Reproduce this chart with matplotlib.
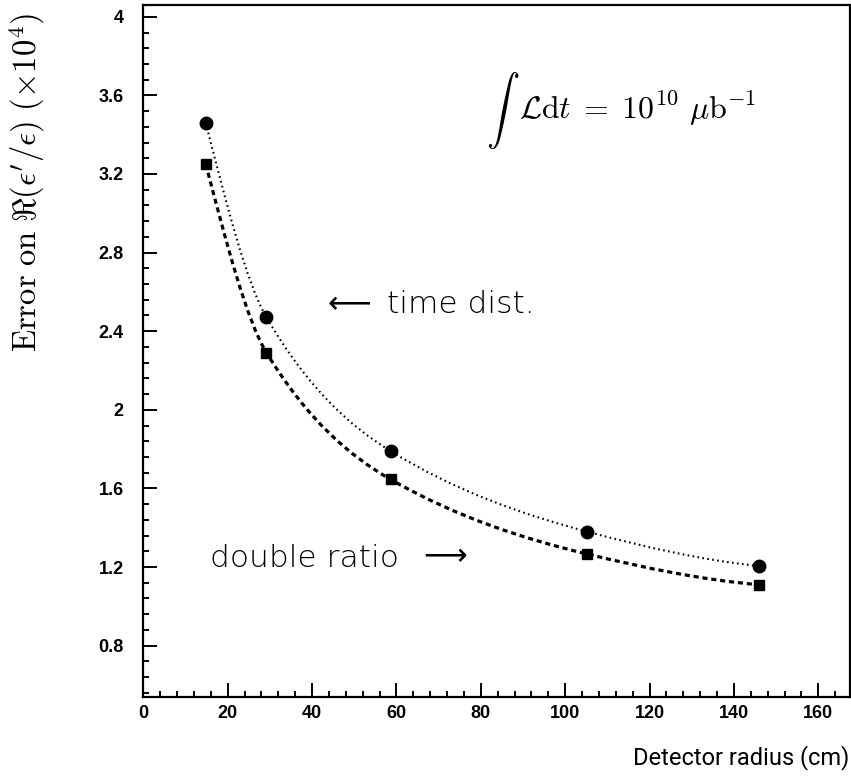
import numpy as np
import matplotlib
matplotlib.use('Agg')
import matplotlib.pyplot as plt
from matplotlib.path import Path
from matplotlib.patches import PathPatch
from matplotlib.ticker import MultipleLocator

# values
radius = [14.8, 29.2, 58.6, 105.2, 145.9]          # cm
err_time = [3.46, 2.47, 1.79, 1.38, 1.205]          # "time dist."
err_ratio = [3.25, 2.29, 1.646, 1.266, 1.11]        # "double ratio"

xticks = [0, 20, 40, 60, 80, 100, 120, 140, 160]
yticks = [0.8, 1.2, 1.6, 2.0, 2.4, 2.8, 3.2, 3.6, 4.0]
ylabels = ['0.8', '1.2', '1.6', '2', '2.4', '2.8', '3.2', '3.6', '4']

W, H = 851, 777


def px(x):
    return x / W


def py(y):
    return 1 - y / H


def smooth_path(x, y):
    # monotone cubic (pchip) through the points, drawn as bezier segments
    x = np.asarray(x, float)
    y = np.asarray(y, float)
    h = np.diff(x)
    d = np.diff(y) / h
    m = np.zeros_like(y)
    for k in range(1, len(x) - 1):
        if d[k - 1] * d[k] > 0:
            w1 = 2 * h[k] + h[k - 1]
            w2 = h[k] + 2 * h[k - 1]
            m[k] = (w1 + w2) / (w1 / d[k - 1] + w2 / d[k])
    m[0] = ((2 * h[0] + h[1]) * d[0] - h[0] * d[1]) / (h[0] + h[1])
    m[-1] = ((2 * h[-1] + h[-2]) * d[-1] - h[-1] * d[-2]) / (h[-1] + h[-2])
    verts = [(x[0], y[0])]
    codes = [Path.MOVETO]
    for k in range(len(x) - 1):
        verts += [(x[k] + h[k] / 3, y[k] + m[k] * h[k] / 3),
                  (x[k + 1] - h[k] / 3, y[k + 1] - m[k + 1] * h[k] / 3),
                  (x[k + 1], y[k + 1])]
        codes += [Path.CURVE4] * 3
    return Path(verts, codes)


fig = plt.figure(figsize=(W / 100, H / 100), dpi=100)
ax = fig.add_axes([px(143.3), py(696.7), (850 - 143.3) / W, (696.7 - 5) / H])
ax.set_xlim(0, 167.5)
ax.set_ylim(0.54, 4.06)

ax.add_patch(PathPatch(smooth_path(radius, err_time), fill=False, color='black',
                       lw=1.5, linestyle=(0, (0.8, 1.6))))
ax.add_patch(PathPatch(smooth_path(radius, err_ratio), fill=False, color='black',
                       lw=2.3, linestyle=(0, (1.6, 1.2))))
ax.plot(radius, err_time, 'o', color='black', ms=9, ls='none')
ax.plot(radius, err_ratio, 's', color='black', ms=7.4, ls='none')

ax.set_xticks(xticks)
ax.set_yticks(yticks)
ax.set_yticklabels(ylabels)
ax.xaxis.set_minor_locator(MultipleLocator(4))
ax.yaxis.set_minor_locator(MultipleLocator(0.08))
ax.tick_params(which='both', direction='in', top=False, right=False, width=1.4)
ax.tick_params(which='major', length=10)
ax.tick_params(which='minor', length=4.3)
ax.tick_params(axis='y', pad=14)
ax.tick_params(axis='x', pad=6)
for lab in ax.get_xticklabels() + ax.get_yticklabels():
    lab.set_fontfamily('Liberation Sans')
    lab.set_fontweight('bold')
    lab.set_fontsize(13)
for sp in ax.spines.values():
    sp.set_linewidth(1.6)

fig.text(px(27), py(182), r"$\mathrm{Error\ on}\ \Re(\epsilon'/\epsilon)\ (\times 10^{4})$",
         rotation=90, ha='center', va='center', fontsize=23.5, math_fontfamily='cm')

fig.text(px(486), py(111), r'$\int$', fontsize=24, math_fontfamily='cm',
         ha='left', va='center')
fig.text(px(519), py(119), r'$\mathcal{L}\mathrm{d}t\;=\;10^{10}\ \mu\mathrm{b}^{-1}$',
         fontsize=23, math_fontfamily='cm', ha='left', va='baseline')

fig.text(px(322), py(303), r'$\longleftarrow$', fontsize=22, math_fontfamily='dejavusans',
         ha='left', va='center')
fig.text(px(387), py(313), 'time dist.', fontsize=22.5, fontweight='light',
         ha='left', va='baseline')
fig.text(px(210), py(567), 'double ratio', fontsize=22.5, fontweight='light',
         ha='left', va='baseline')
fig.text(px(468), py(555), r'$\longrightarrow$', fontsize=22, math_fontfamily='dejavusans',
         ha='right', va='center')

fig.text(px(849), py(764), 'Detector radius (cm)', fontsize=17,
         family=['Roboto', 'DejaVu Sans'], ha='right', va='baseline')

fig.savefig('out.png', dpi=100)
